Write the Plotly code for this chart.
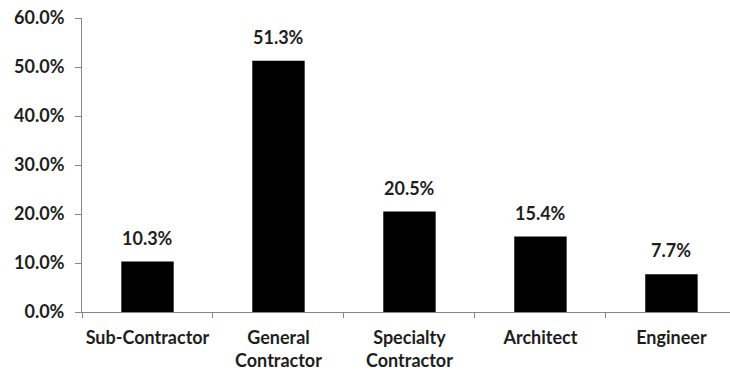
import plotly.graph_objects as go

categories = ["Sub-Contractor", "General<br>Contractor", "Specialty<br>Contractor", "Architect", "Engineer"]
values = [10.3, 51.3, 20.5, 15.4, 7.7]
y_ticks = [0, 10, 20, 30, 40, 50, 60]
y_tick_labels = [f"{v:.1f}%" for v in y_ticks]

FONT = "Lato"
TXT = "#1e1e1e"
FS = 18

fig = go.Figure()
fig.add_trace(go.Bar(
    x=categories, y=values, marker=dict(color="black", line=dict(width=0)),
    width=0.4, hoverinfo="skip",
))
for c, v in zip(categories, values):
    fig.add_annotation(x=c, y=v, text=f"{v:.1f}%", showarrow=False,
                       yanchor="bottom", yshift=11,
                       font=dict(family=FONT, size=FS, color=TXT, weight="bold"))

fig.update_layout(
    width=730, height=371,
    margin=dict(l=82, r=0, t=18, b=59),
    plot_bgcolor="white", paper_bgcolor="white",
    showlegend=False,
    font=dict(family=FONT, size=FS, color=TXT, weight="bold"),
)
fig.update_xaxes(
    range=[-0.5, 4.447], showline=True, linecolor="#868686", linewidth=1,
    ticks="outside", tickson="boundaries", ticklen=5, tickcolor="#868686",
    ticklabelstandoff=9, tickangle=0, automargin=False,
    showgrid=False, tickfont=dict(family=FONT, size=FS, color=TXT, weight="bold"),
)
fig.update_yaxes(
    range=[0, 60], tickvals=y_ticks, ticktext=y_tick_labels,
    showline=True, linecolor="#868686", linewidth=1,
    ticks="outside", ticklen=6, tickcolor="#868686",
    ticklabelstandoff=7, automargin=False,
    showgrid=False, zeroline=False,
    tickfont=dict(family=FONT, size=FS, color=TXT, weight="bold"),
)

fig.write_html("out.html")
